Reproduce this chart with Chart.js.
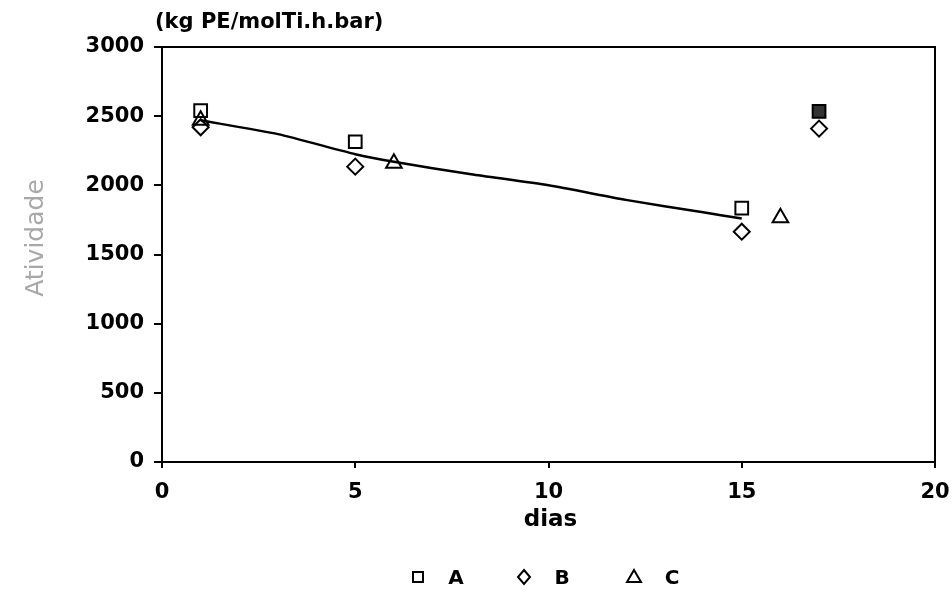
<!DOCTYPE html>
<html>
<head>
<meta charset="utf-8">
<script src="https://cdn.jsdelivr.net/npm/chart.js@4.4.1/dist/chart.umd.min.js"></script>
<style>
  body { margin: 0; background: #fff; }
  #wrap { width: 952px; height: 593px; }
</style>
</head>
<body>
<div id="wrap"><canvas id="chart" width="952" height="593"></canvas></div>
<script>
/* ============================= */
/*            DATA               */
/* ============================= */
const daysA = [1, 5, 15, 17];
const valuesA = [2540, 2315, 1835, 2535];
const daysB = [1, 5, 15, 17];
const valuesB = [2420, 2135, 1665, 2410];
const daysC = [1, 6, 16];
const valuesC = [2470, 2160, 1765];
const fitDays = [1, 3, 5, 6, 8, 10, 12, 14, 15];
const fitValues = [2470, 2370, 2225, 2170, 2080, 2000, 1895, 1805, 1760];
const xTicks = [0, 5, 10, 15, 20];
const yTicks = [0, 500, 1000, 1500, 2000, 2500, 3000];
const legendLabels = ['A', 'B', 'C'];

const toPoints = (xs, ys) => xs.map((x, i) => ({ x: x, y: ys[i] }));

/* ============================= */
/*      EXTRA TEXT + LEGEND      */
/* ============================= */
const annotations = {
    id: 'annotations',
    afterDraw(chart) {
        const ctx = chart.ctx;
        const area = chart.chartArea;
        ctx.save();
        ctx.fillStyle = '#000';

        // unit label above the plot
        ctx.font = 'bold 21px "DejaVu Sans"';
        ctx.textAlign = 'left';
        ctx.textBaseline = 'middle';
        ctx.fillText('(kg PE/molTi.h.bar)', area.left - 7, 23);

        // x axis title
        ctx.textAlign = 'center';
        ctx.font = 'bold 23px "DejaVu Sans"';
        ctx.fillText('dias', (area.left + area.right) / 2 + 2, 520);

        // handwritten y label
        ctx.save();
        ctx.translate(36, 238);
        ctx.rotate(-Math.PI / 2);
        ctx.fillStyle = '#a8a8a8';
        ctx.font = '25px "DejaVu Sans"';
        ctx.fillText('Atividade', 0, 0);
        ctx.restore();

        // legend
        const y = 577;
        const items = [418, 524, 634];
        ctx.strokeStyle = '#000';
        ctx.lineWidth = 2;
        items.forEach((x, i) => {
            ctx.beginPath();
            if (i === 0) {
                ctx.rect(x - 5, y - 5, 10, 10);
            } else if (i === 1) {
                ctx.moveTo(x, y - 7); ctx.lineTo(x + 6, y); ctx.lineTo(x, y + 7); ctx.lineTo(x - 6, y); ctx.closePath();
            } else {
                ctx.moveTo(x, y - 7); ctx.lineTo(x + 7, y + 5); ctx.lineTo(x - 7, y + 5); ctx.closePath();
            }
            ctx.stroke();
            ctx.font = 'bold 20px "DejaVu Sans"';
            ctx.fillText(legendLabels[i], x + 38, y + 2);
        });

        // box around plot area (top and right sides)
        ctx.lineWidth = 2;
        ctx.beginPath();
        ctx.moveTo(area.left, area.top);
        ctx.lineTo(area.right, area.top);
        ctx.lineTo(area.right, area.bottom);
        ctx.stroke();
        ctx.restore();
    }
};

/* ============================= */
/*            CHART              */
/* ============================= */
const markerStyle = {
    borderColor: '#000',
    backgroundColor: 'rgba(0,0,0,0)',
    pointBorderWidth: 2,
    showLine: false
};

new Chart(document.getElementById('chart'), {
    type: 'scatter',
    data: {
        datasets: [
            {
                label: 'ajuste',
                data: toPoints(fitDays, fitValues),
                showLine: true,
                borderColor: '#000',
                borderWidth: 2.5,
                tension: 0.2,
                pointRadius: 0
            },
            Object.assign({
                label: 'A',
                data: toPoints(daysA, valuesA),
                pointStyle: 'rect',
                pointRadius: 9,
                pointBackgroundColor: ['rgba(0,0,0,0)', 'rgba(0,0,0,0)', 'rgba(0,0,0,0)', '#333']
            }, markerStyle),
            Object.assign({
                label: 'B',
                data: toPoints(daysB, valuesB),
                pointStyle: 'rectRot',
                pointRadius: 8
            }, markerStyle),
            Object.assign({
                label: 'C',
                data: toPoints(daysC, valuesC),
                pointStyle: 'triangle',
                pointRadius: 9
            }, markerStyle)
        ]
    },
    options: {
        responsive: false,
        animation: false,
        layout: { padding: { left: 0, top: 47, right: 17, bottom: 0 } },
        plugins: {
            legend: { display: false },
            tooltip: { enabled: false }
        },
        scales: {
            x: {
                type: 'linear',
                min: 0,
                max: 20,
                afterBuildTicks: (scale) => { scale.ticks = xTicks.map(v => ({ value: v })); },
                afterFit: (scale) => {
                    scale.height = 131;
                    scale.paddingLeft = 0;
                    scale.paddingRight = 0;
                },
                grid: { display: true, drawOnChartArea: false, drawTicks: true, tickLength: 6, color: '#000', lineWidth: 2 },
                border: { display: true, color: '#000', width: 2 },
                ticks: {
                    color: '#000',
                    padding: 12,
                    maxRotation: 0,
                    callback: (v) => String(v),
                    font: { family: 'DejaVu Sans', weight: 'bold', size: 21 }
                }
            },
            y: {
                type: 'linear',
                min: 0,
                max: 3000,
                afterBuildTicks: (scale) => { scale.ticks = yTicks.map(v => ({ value: v })); },
                afterFit: (scale) => {
                    scale.width = 162;
                    scale.paddingTop = 0;
                    scale.paddingBottom = 0;
                },
                grid: { display: true, drawOnChartArea: false, drawTicks: true, tickLength: 8, color: '#000', lineWidth: 2 },
                border: { display: true, color: '#000', width: 2 },
                ticks: {
                    color: '#000',
                    padding: 10,
                    callback: (v) => String(v),
                    font: { family: 'DejaVu Sans', weight: 'bold', size: 21 }
                }
            }
        }
    },
    plugins: [annotations]
});
</script>
</body>
</html>
